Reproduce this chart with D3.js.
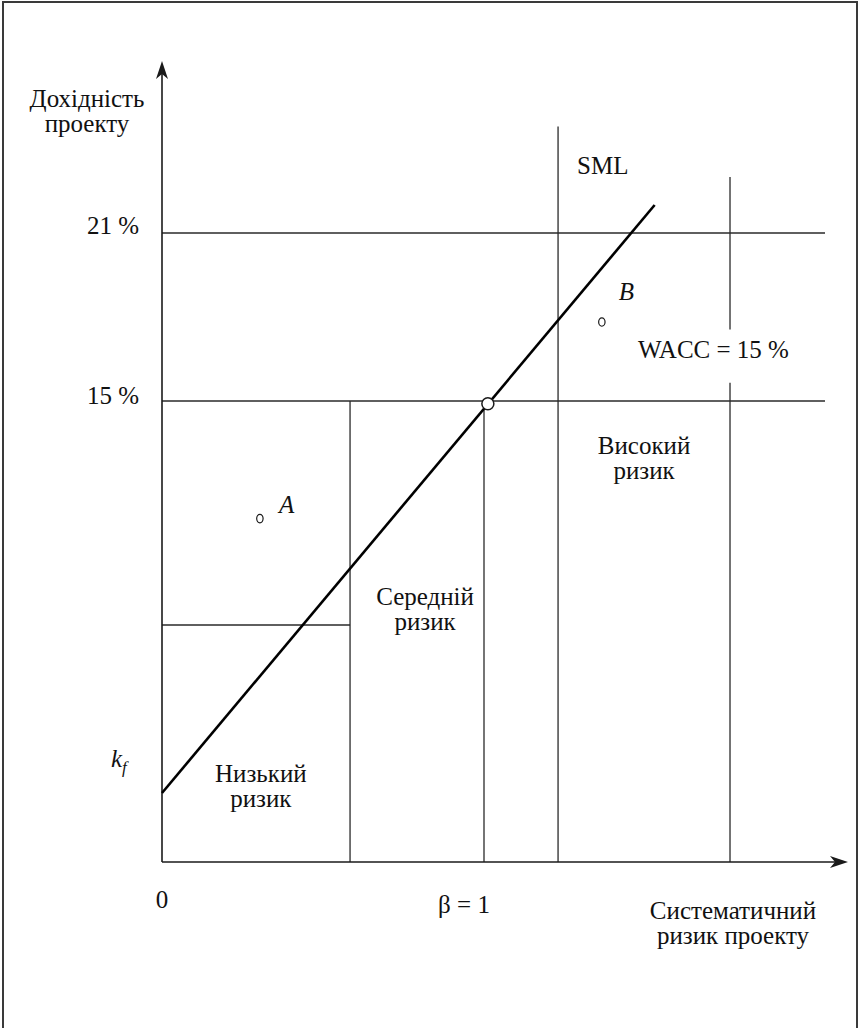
<!DOCTYPE html>
<html>
<head>
<meta charset="utf-8">
<script src="https://cdn.jsdelivr.net/npm/d3@7/dist/d3.min.js"></script>
<style>
  html, body { margin: 0; padding: 0; background: #fff; }
  svg { display: block; }
</style>
</head>
<body>
<script>
// Project return (%) against systematic risk (beta), with the WACC hurdle and SML.
const rateLevels = [21, 15];                 // horizontal reference rates, %
const rateLabels = ["21 %", "15 %"];
const kf = 1.0;                              // risk-free rate, %
const sml = [ {beta: 0, r: kf}, {beta: 1.53, r: 22.0} ];
const lowRiskTop = 7.0;                      // top of the low-risk band, %
const bandEdges = [0.584, 1.0];              // low / medium band boundaries (beta)
const highRiskEdge = 1.23;                   // left edge of the high-risk column
const highRiskTop = 24.8;
const waccEdge = 1.764;                      // column carrying the WACC note
const waccEdgeTop = 23.0;
const waccGap = [17.55, 15.65];
const marketPoint = {beta: 1.012, r: 14.9};
const projects = [
  {name: "A", beta: 0.304, r: 10.8},
  {name: "B", beta: 1.366, r: 17.82}
];
const riskZones = [
  {lines: ["Низький", "ризик"], beta: 0.307, r: 1.39},
  {lines: ["Середній", "ризик"], beta: 0.817, r: 7.71},
  {lines: ["Високий", "ризик"], beta: 1.497, r: 13.11}
];

const W = 859, H = 1028;
const FONT = "'Liberation Serif', 'Tinos', 'Times New Roman', 'DejaVu Serif', serif";
const FS = 25;
const svg = d3.select("body").append("svg").attr("width", W).attr("height", H)
  .attr("font-family", FONT);

const x = d3.scaleLinear().domain([0, 1]).range([162, 484]);
const y = d3.scaleLinear().domain([15, 21]).range([401, 233]);
const rMin = y.invert(862), rMax = y.invert(61);
const bMax = x.invert(848), lineEnd = x.invert(825);

const ink = "#1a1a1a";

// outer frame
svg.append("rect").attr("x", 3).attr("y", 2).attr("width", 854).attr("height", 1040)
  .attr("fill", "none").attr("stroke", "#3a3a3a").attr("stroke-width", 2);

const g = svg.append("g");
const seg = (b1, r1, b2, r2, sw = 1.3, col = "#2a2a2a") =>
  g.append("line").attr("x1", x(b1)).attr("y1", y(r1)).attr("x2", x(b2)).attr("y2", y(r2))
    .attr("stroke", col).attr("stroke-width", sw);

// horizontal rate lines
rateLevels.forEach(v => seg(0, v, lineEnd, v));
seg(0, lowRiskTop, bandEdges[0], lowRiskTop);

// vertical band boundaries
bandEdges.forEach(b => seg(b, 15, b, rMin));
seg(highRiskEdge, highRiskTop, highRiskEdge, rMin);
seg(waccEdge, waccEdgeTop, waccEdge, waccGap[0]);
seg(waccEdge, waccGap[1], waccEdge, rMin);

// axes with arrowheads
seg(0, rMin, 0, rMax - 0.3, 1.6, ink);
seg(0, rMin, bMax - 0.02, rMin, 1.6, ink);
const tipY = [x(0), y(rMax)], tipX = [x(bMax), y(rMin)];
g.append("path")
  .attr("d", `M${tipY[0]},${tipY[1]} L${tipY[0] + 6},${tipY[1] + 18} L${tipY[0]},${tipY[1] + 13} L${tipY[0] - 6},${tipY[1] + 18} Z`)
  .attr("fill", ink);
g.append("path")
  .attr("d", `M${tipX[0]},${tipX[1]} L${tipX[0] - 18},${tipX[1] - 6} L${tipX[0] - 13},${tipX[1]} L${tipX[0] - 18},${tipX[1] + 6} Z`)
  .attr("fill", ink);

// security market line
g.append("path").datum(sml)
  .attr("d", d3.line().x(d => x(d.beta)).y(d => y(d.r)))
  .attr("fill", "none").attr("stroke", "#000").attr("stroke-width", 2.6);

// market portfolio point
g.append("circle").attr("cx", x(marketPoint.beta)).attr("cy", y(marketPoint.r)).attr("r", 6)
  .attr("fill", "#fff").attr("stroke", ink).attr("stroke-width", 1.5);

// projects
projects.forEach(p => {
  g.append("ellipse").attr("cx", x(p.beta)).attr("cy", y(p.r)).attr("rx", 3.2).attr("ry", 4.2)
    .attr("fill", "none").attr("stroke", ink).attr("stroke-width", 1.2);
});
const txt = (sel) => sel.attr("fill", "#111").attr("font-size", FS);
txt(g.append("text")).attr("x", x(projects[0].beta) + 19).attr("y", y(projects[0].r) - 6)
  .attr("font-style", "italic").text(projects[0].name);
txt(g.append("text")).attr("x", x(projects[1].beta) + 17).attr("y", y(projects[1].r) - 22)
  .attr("font-style", "italic").text(projects[1].name);

// rate labels
rateLevels.forEach((v, i) => {
  txt(g.append("text")).attr("x", 139).attr("y", y(v) + (i === 0 ? 1 : 3))
    .attr("text-anchor", "end").text(rateLabels[i]);
});

// k_f label
const kfT = txt(g.append("text")).attr("x", 111).attr("y", 767).attr("font-style", "italic");
kfT.append("tspan").text("k");
kfT.append("tspan").attr("font-size", 17).attr("dy", 6).text("f");

// axis tick labels
txt(g.append("text")).attr("x", x(0)).attr("y", 908).attr("text-anchor", "middle").text("0");
txt(g.append("text")).attr("x", x(1) - 20).attr("y", 913).attr("text-anchor", "middle").text("β = 1");

// multi-line centred labels
const multi = (lines, cx, by, lh) => {
  const t = txt(g.append("text")).attr("text-anchor", "middle");
  lines.forEach((s, i) => t.append("tspan").attr("x", cx).attr("y", by + i * lh).text(s));
};
multi(["Дохідність", "проекту"], 87, 107, 25);
multi(["Систематичний", "ризик проекту"], 733, 919, 25);

// line annotations
txt(g.append("text")).attr("x", 577).attr("y", 174).text("SML");
txt(g.append("text")).attr("x", 638).attr("y", 358).text("WACC = 15 %");

// risk zone labels
riskZones.forEach(z => multi(z.lines, x(z.beta), y(z.r), 25));
</script>
</body>
</html>
